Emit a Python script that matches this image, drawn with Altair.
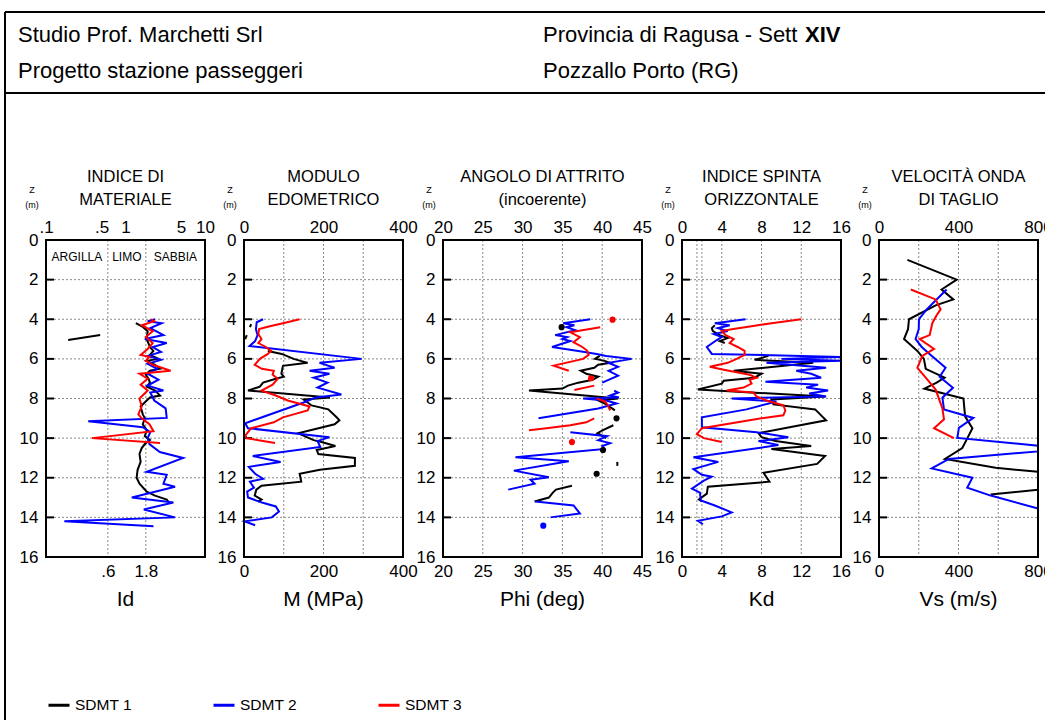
import altair as alt
import pandas as pd

FONT = "Liberation Sans"
SERIES = ["SDMT 1", "SDMT 2", "SDMT 3"]
COLORS = ["#000000", "#0000ff", "#ff0000"]

# Profiles as (depth [m], value) pairs; None marks a break in the trace.
ID_SDMT1 = [(4.8, 0.48), (5.05, 0.19), None,
            (4.2, 1.35), (4.4, 1.67), (4.6, 1.9), (5.0, 1.85), (5.4, 2.03), (5.6, 2.24), (5.8, 2.03),
            (6.0, 2.6), (6.1, 1.85), (6.3, 2.35), (6.5, 2.72), (6.6, 2.03), (6.8, 1.8), (7.0, 1.95),
            (7.2, 2.03), (7.4, 1.85), (7.6, 2.35), (7.85, 2.72), (7.95, 2.03), (8.1, 1.85), (8.4, 1.55),
            (8.8, 1.65), (9.0, 1.75), (9.3, 1.65), (9.6, 1.85), (9.9, 1.75), (10.1, 2.03), (10.3, 1.75),
            (10.5, 1.6), (10.8, 1.5), (11.2, 1.55), (11.6, 1.42), (12.0, 1.38), (12.3, 1.5), (12.7, 1.85),
            (12.9, 2.35), (13.1, 3.3), (13.3, 3.6)]
ID_SDMT2 = [(4.0, 2.35), (4.1, 1.9), (4.2, 2.85), (4.45, 2.05), (4.8, 3.0), (5.0, 1.75), (5.2, 3.3),
            (5.4, 2.2), (5.65, 2.8), (5.85, 1.9), (6.05, 2.8), (6.25, 1.9), (6.5, 2.5), (6.75, 1.9),
            (7.05, 2.6), (7.35, 1.9), (7.6, 3.0), (7.7, 2.05), (8.1, 2.3), (8.5, 3.2), (8.98, 3.3),
            (9.15, 0.34), (9.45, 1.65), (9.7, 2.05), (10.0, 1.9), (10.3, 2.0), (10.7, 2.7), (11.0, 5.3),
            (11.7, 1.85), (11.85, 3.3), (12.3, 3.0), (12.45, 4.2), (13.0, 1.2), (13.25, 4.0), (13.6, 1.7),
            (14.0, 4.2), (14.2, 0.17), (14.45, 2.25)]
ID_SDMT3 = [(4.0, 2.1), (4.1, 2.3), (4.3, 1.6), (4.6, 2.2), (4.9, 1.8), (5.2, 2.2), (5.5, 1.9),
            (5.8, 1.55), (5.9, 2.0), (6.1, 1.8), (6.3, 2.2), (6.6, 3.7), (6.75, 1.5), (7.0, 1.9),
            (7.3, 1.55), (7.6, 1.9), (8.0, 1.5), (8.4, 1.6), (8.8, 1.45), (9.0, 1.6), (9.3, 2.0),
            (9.65, 2.25), (10.0, 0.38), (10.25, 2.72)]

M_SDMT1 = [(4.25, 18), (4.4, 15), None, (4.8, 7), (5.0, 3), None,
           (5.6, 60), (5.75, 95), (6.0, 125), (6.2, 160), (6.35, 98), (6.75, 94), (6.9, 100), (7.0, 80),
           (7.2, 48), (7.4, 40), (7.6, 10), (7.95, 216), (8.05, 150), (8.35, 170), (8.55, 212),
           (8.95, 233), (9.1, 240), (9.3, 228), (9.75, 136), (10.1, 175), (10.2, 195), (10.4, 230),
           (10.6, 183), (10.8, 187), (11.0, 279), (11.4, 279), (11.6, 191), (11.8, 140), (12.2, 144),
           (12.4, 44), (12.6, 31), (12.9, 27), (13.1, 44), (13.2, 35)]
M_SDMT2 = [(4.0, 48), (4.15, 32), (4.5, 30), (4.8, 34), (5.1, 28), (5.35, 14), (6.0, 296), (6.2, 190),
           (6.45, 228), (6.6, 165), (6.75, 215), (6.95, 175), (7.2, 210), (7.45, 185), (7.8, 245),
           (7.95, 180), (8.2, 150), (9.25, 3), (9.5, 10), (9.95, 215), (10.15, 185), (10.45, 192),
           (10.9, 22), (11.2, 92), (11.45, 12), (11.8, 28), (12.05, 48), (12.2, 15), (12.5, 25),
           (12.7, 8), (13.0, 10), (13.25, 45), (13.45, 80), (13.7, 88), (14.0, 70), (14.2, 2), (14.4, 28)]
M_SDMT3 = [(4.0, 140), (4.2, 98), (4.35, 65), (4.5, 38), (4.75, 36), (5.0, 44), (5.2, 36), (5.4, 55),
           (5.6, 68), (5.75, 60), (6.0, 40), (6.3, 27), (6.5, 45), (6.6, 75), (6.8, 72), (7.0, 85),
           (7.3, 72), (7.6, 44), (7.85, 80), (8.1, 110), (8.4, 165), (8.6, 160), (8.95, 98), (9.2, 75),
           (9.5, 18), (9.85, 4), (10.0, 6), (10.25, 78)]

PHI_SDMT1 = [(5.85, 39.7), (6.0, 39.1), (6.1, 40.3), (6.2, 41.0), (6.3, 39.5), (6.45, 39.0), (6.6, 37.3),
             (6.75, 38.0), (6.9, 39.5), (7.05, 38.8), (7.2, 37.0), (7.35, 35.7), (7.5, 35.0), (7.6, 30.8),
             (8.0, 42.0), (8.1, 39.5), (8.3, 40.5), (8.6, 41.6), None,
             (9.35, 41.4), (9.6, 40.1), (9.75, 39.4), (10.0, 40.5), None,
             (11.2, 41.9), (11.4, 41.9), None,
             (12.4, 36.2), (12.6, 34.2), (12.75, 33.8), (13.0, 33.3), (13.2, 31.5)]
PHI_SDMT2 = [(4.0, 38.5), (4.2, 35.1), (4.3, 36.5), (4.4, 35.5), (4.55, 36.6), (4.8, 34.1), (4.9, 35.6),
             (5.0, 35.0), (5.1, 36.0), (5.4, 33.7), (5.6, 37.0), (5.75, 39.3), (5.85, 40.5), (6.0, 43.7),
             (6.2, 40.8), (6.4, 42.0), (6.6, 40.8), (6.85, 42.0), (7.2, 40.0), None,
             (7.6, 41.5), (7.7, 42.0), (7.85, 41.0), (7.95, 42.1), (8.0, 37.6), (8.1, 40.5), (8.25, 41.8),
             (8.5, 39.5), (9.0, 32.0), None,
             (9.7, 36.0), (9.9, 40.6), (10.1, 39.5), (10.25, 41.0), (10.4, 40.0), (10.55, 40.3),
             (10.97, 29.1), (11.17, 35.8), (11.64, 28.9), (11.98, 33.3), (12.1, 31.0), (12.3, 31.5),
             (12.6, 28.2), None,
             (13.2, 31.6), (13.4, 36.4), (13.8, 37.2), (14.0, 33.5)]
PHI_SDMT3 = [(4.4, 39.75), (4.66, 36.0), (4.9, 37.2), (5.16, 36.4), (5.4, 37.5), (5.58, 38.1),
             (5.8, 38.3), (6.0, 37.6), (6.34, 33.9), (6.6, 35.8), None,
             (7.35, 39.0), (7.57, 36.5), None,
             (8.0, 39.3), (8.15, 40.4), (8.35, 40.7), (8.6, 41.0), None,
             (9.0, 39.0), (9.2, 38.0), (9.35, 36.0), (9.5, 33.0), (9.6, 30.8)]
PHI_SDMT1_PUNTI = [(4.4, 34.9), (9.0, 41.8), (10.6, 40.1), (11.8, 39.3)]
PHI_SDMT2_PUNTI = [(14.42, 32.6)]
PHI_SDMT3_PUNTI = [(4.02, 41.3), (6.98, 38.6), (10.2, 36.2)]

KD_SDMT1 = [(4.3, 3.3), (4.45, 3.0), (4.6, 3.1), (4.8, 3.8), (4.95, 4.6), (5.1, 3.8), (5.2, 4.3), None,
            (5.85, 8.7), (6.05, 7.3), (6.2, 13.2), (6.6, 5.2), (6.75, 8.0), (6.95, 7.3), (7.1, 4.2),
            (7.25, 4.0), (7.55, 1.6), (7.9, 14.4), (8.05, 9.0), (8.3, 9.2), (8.55, 13.4), (8.85, 14.0),
            (9.1, 14.5), (9.75, 7.7), (9.95, 8.0), (10.15, 9.4), (10.4, 13.0), (10.55, 9.0), (10.9, 14.4),
            (11.3, 13.6), (11.75, 8.2), (12.2, 8.8), (12.45, 2.6), (12.8, 2.5), (13.1, 1.7), (13.2, 2.0)]
KD_SDMT2 = [(4.0, 6.4), (4.2, 3.3), (4.3, 4.8), (4.45, 3.6), (4.6, 4.6), (4.75, 3.2), (4.9, 4.0),
            (5.05, 3.5), (5.4, 2.5), (5.75, 3.0), (5.9, 16.0), (6.0, 10.0), (6.1, 16.0), (6.2, 8.5),
            (6.45, 14.5), (6.6, 11.5), (6.75, 13.0), (6.95, 14.0), (7.15, 8.4), (7.3, 13.7), (7.45, 12.5),
            (7.6, 14.7), (7.75, 12.8), (7.9, 14.5), (8.0, 5.0), (8.15, 9.5), (8.55, 6.5), (8.95, 2.0),
            (9.45, 2.0), (9.7, 7.5), (9.96, 10.7), (10.15, 7.7), (10.35, 9.7), (10.97, 1.15), (11.2, 3.65),
            (11.56, 1.15), (11.85, 2.0), (11.95, 3.0), (12.15, 2.2), (12.55, 1.0), (12.75, 1.8),
            (13.15, 1.9), (13.4, 3.3), (13.75, 5.0), (13.95, 4.0), (14.17, 1.6), (14.35, 2.1)]
KD_SDMT3 = [(4.0, 12.0), (4.2, 9.0), (4.35, 7.0), (4.5, 5.0), (4.6, 4.0), (4.8, 4.4), (5.0, 5.2),
            (5.2, 4.8), (5.4, 5.6), (5.6, 6.3), (5.8, 6.3), (6.0, 5.5), (6.2, 4.6), (6.4, 2.8), (6.55, 4.2),
            (6.8, 6.8), (6.95, 7.5), (7.05, 6.8), (7.25, 7.0), (7.45, 6.2), (7.6, 4.5), (7.7, 7.2),
            (7.9, 7.5), (8.1, 8.5), (8.35, 10.2), (8.6, 10.4), (8.85, 10.2), (9.0, 8.0), (9.2, 5.6),
            (9.5, 2.0), (9.8, 1.5), (10.0, 2.2), (10.2, 4.0)]

VS_SDMT1 = [(1.0, 143), (2.0, 391), (2.5, 315), (3.0, 374), (3.3, 285), (4.0, 151), (4.5, 146),
            (5.0, 126), (5.6, 193), (6.0, 226), (6.5, 235), (6.95, 330), (7.2, 290), (7.5, 228),
            (8.0, 425), (8.9, 433), (9.5, 470), (9.9, 450), (10.5, 419), (11.05, 332), (11.5, 587),
            (11.7, 800), None, (12.6, 800), (12.85, 562)]
VS_SDMT2 = [(2.5, 340), (3.0, 290), (3.5, 240), (4.0, 201), (4.5, 200), (5.0, 184), (5.4, 215),
            (5.8, 260), (6.45, 335), (6.9, 305), (7.46, 372), (7.96, 319), (8.55, 327), (8.98, 475),
            (9.48, 402), (9.99, 394), (10.38, 800), (10.67, 800), (11.05, 352), (11.53, 265), (12.0, 470),
            (12.5, 444), (12.9, 562), (13.55, 800)]
VS_SDMT3 = [(2.5, 160), (3.0, 285), (3.5, 310), (3.8, 290), (4.2, 268), (4.8, 255), (5.0, 205),
            (5.5, 277), (5.85, 218), (6.45, 193), (6.95, 235), (7.55, 285), (8.5, 319), (9.05, 327),
            (9.5, 277), (10.0, 377)]

# Soil classes on the material index scale
ID_CLASSI = ["ARGILLA", "LIMO", "SABBIA"]
ID_LIMITI = [0.1, 0.6, 1.8, 10]

DEPTH_TICKS = list(range(0, 17, 2))
DEPTH_GRID = list(range(2, 15, 2))

PANELS = [
    dict(serie=[ID_SDMT1, ID_SDMT2, ID_SDMT3], punti=[[], [], []], tipo="log", dominio=(0.1, 10),
         pos=(46, 205), griglia=[0.6, 1.8], alto=[0.1, 0.5, 1, 5, 10], basso=[0.6, 1.8],
         titolo=("INDICE DI", "MATERIALE"), asse="Id"),
    dict(serie=[M_SDMT1, M_SDMT2, M_SDMT3], punti=[[], [], []], tipo="linear", dominio=(0, 400),
         pos=(244, 403), griglia=[100, 200, 300], alto=[0, 200, 400], basso=[0, 200, 400],
         titolo=("MODULO", "EDOMETRICO"), asse="M (MPa)"),
    dict(serie=[PHI_SDMT1, PHI_SDMT2, PHI_SDMT3], punti=[PHI_SDMT1_PUNTI, PHI_SDMT2_PUNTI, PHI_SDMT3_PUNTI],
         tipo="linear", dominio=(20, 45), pos=(443, 642), griglia=[25, 30, 35, 40],
         alto=[20, 25, 30, 35, 40, 45], basso=[20, 25, 30, 35, 40, 45],
         titolo=("ANGOLO DI ATTRITO", "(incoerente)"), asse="Phi (deg)"),
    dict(serie=[KD_SDMT1, KD_SDMT2, KD_SDMT3], punti=[[], [], []], tipo="linear", dominio=(0, 16),
         pos=(682, 841), griglia=[1.5, 2, 4, 8, 12], alto=[0, 4, 8, 12, 16], basso=[0, 4, 8, 12, 16],
         titolo=("INDICE SPINTA", "ORIZZONTALE"), asse="Kd"),
    dict(serie=[VS_SDMT1, VS_SDMT2, VS_SDMT3], punti=[[], [], []], tipo="linear", dominio=(0, 800),
         pos=(879, 1038), griglia=[200, 400, 600], alto=[0, 400, 800], basso=[0, 400, 800],
         titolo=("VELOCITÀ ONDA", "DI TAGLIO"), asse="Vs (m/s)"),
]

W, H = 1045, 720
Y_TOP, Y_BOT = 240, 557
GRID_STYLE = dict(stroke="#8a8a8a", strokeWidth=1, strokeDash=[2, 2])

LEGEND = alt.Legend(orient="none", legendX=47, legendY=693, direction="horizontal", title=None,
                    symbolType="stroke", symbolSize=441, symbolStrokeWidth=3, labelFont=FONT,
                    labelFontSize=15.5, labelColor="black", labelOffset=4, columnPadding=75, padding=0)
COLOR_SCALE = alt.Scale(domain=SERIES, range=COLORS)


def profile_rows(pairs, serie):
    rows, seg = [], 0
    for i, p in enumerate(pairs):
        if p is None:
            seg += 1
            continue
        rows.append({"z": p[0], "v": p[1], "serie": serie, "tratto": f"{serie}/{seg}", "ordine": i})
    return rows


AXIS_BASE = dict(grid=False, domain=False, ticks=False, tickSize=0, labelFont=FONT, labelFontSize=17,
                 labelColor="black", labelOverlap=False, labelFlush=False, title=None)


def make_panel(p):
    lo, hi = p["dominio"]
    left, right = p["pos"]
    xs = alt.Scale(type=p["tipo"], domain=[lo, hi], range=[left, right], nice=False, zero=False)
    ys = alt.Scale(domain=[0, 16], range=[Y_TOP, Y_BOT], nice=False, zero=False)
    extra = {}
    if p["tipo"] == "log":
        extra["labelExpr"] = "datum.value < 1 ? slice(toString(datum.value), 1) : toString(datum.value)"
    top_axis = alt.Axis(orient="top", offset=-Y_TOP, values=p["alto"], labelPadding=4, **extra, **AXIS_BASE)
    bot_axis = alt.Axis(orient="bottom", offset=Y_BOT - H, values=p["basso"], labelPadding=6, **extra,
                        **AXIS_BASE)
    left_axis = alt.Axis(orient="left", offset=-left, values=DEPTH_TICKS, labelPadding=8, **AXIS_BASE)

    hgrid = alt.Chart(pd.DataFrame({"x0": lo, "x1": hi, "z": DEPTH_GRID})).mark_rule(**GRID_STYLE).encode(
        x=alt.X("x0:Q", scale=xs, axis=None), x2="x1:Q", y=alt.Y("z:Q", scale=ys, axis=None))
    vgrid = alt.Chart(pd.DataFrame({"x": p["griglia"], "z0": 0, "z1": 16})).mark_rule(**GRID_STYLE).encode(
        x=alt.X("x:Q", scale=xs, axis=bot_axis), y=alt.Y("z0:Q", scale=ys, axis=None), y2="z1:Q")
    ticks = alt.Chart(pd.DataFrame({"x0": lo, "x1": lo, "z": DEPTH_GRID})).mark_rule(
        stroke="black", strokeWidth=2, x2Offset=8).encode(
        x=alt.X("x0:Q", scale=xs, axis=None), x2="x1:Q", y=alt.Y("z:Q", scale=ys, axis=None))

    rows, dots = [], []
    for serie, pairs, pts in zip(SERIES, p["serie"], p["punti"]):
        rows += profile_rows(pairs, serie)
        dots += [{"z": z, "v": v, "serie": serie} for z, v in pts]
    lines = alt.Chart(pd.DataFrame(rows)).mark_line(strokeWidth=2).encode(
        x=alt.X("v:Q", scale=xs, axis=None), y=alt.Y("z:Q", scale=ys, axis=None),
        color=alt.Color("serie:N", scale=COLOR_SCALE, legend=LEGEND),
        detail="tratto:N", order="ordine:Q")
    layers = [hgrid, vgrid, ticks, lines]
    if dots:
        layers.append(alt.Chart(pd.DataFrame(dots)).mark_circle(size=38, opacity=1).encode(
            x=alt.X("v:Q", scale=xs, axis=None), y=alt.Y("z:Q", scale=ys, axis=None),
            color=alt.Color("serie:N", scale=COLOR_SCALE, legend=None)))
    if p["tipo"] == "log":
        centri = [(ID_LIMITI[i] * ID_LIMITI[i + 1]) ** 0.5 for i in range(len(ID_CLASSI))]
        layers.append(alt.Chart(pd.DataFrame({"t": ID_CLASSI, "x": centri, "z": 0.85})).mark_text(
            font=FONT, fontSize=12, color="black", baseline="middle").encode(
            x=alt.X("x:Q", scale=xs, axis=None), y=alt.Y("z:Q", scale=ys, axis=None), text="t:N"))
    frame = alt.Chart(pd.DataFrame({"x0": [lo], "x1": [hi], "z0": [0], "z1": [16]})).mark_rect(
        fillOpacity=0, stroke="black", strokeWidth=2).encode(
        x=alt.X("x0:Q", scale=xs, axis=top_axis), x2="x1:Q",
        y=alt.Y("z0:Q", scale=ys, axis=left_axis), y2="z1:Q")
    layers.append(frame)
    return alt.layer(*layers).resolve_axis(x="independent", y="independent")


ONE = pd.DataFrame({"k": [0]})


def label(txt, x, y, size, align="left", weight="normal"):
    return alt.Chart(pd.DataFrame({"t": [txt]})).mark_text(
        align=align, baseline="middle", font=FONT, fontSize=size, fontWeight=weight, color="black").encode(
        x=alt.value(x), y=alt.value(y), text="t:N")


def hline(y, x0=5, x1=W):
    return alt.Chart(ONE).mark_rule(stroke="black", strokeWidth=2).encode(
        x=alt.value(x0), x2=alt.value(x1), y=alt.value(y))


deco = [
    hline(12), hline(93),
    alt.Chart(ONE).mark_rule(stroke="black", strokeWidth=2).encode(
        x=alt.value(5), y=alt.value(12), y2=alt.value(H)),
    label("Studio Prof. Marchetti Srl", 18, 35, 22),
    label("Progetto stazione passeggeri", 18, 71, 22),
    label("Provincia di Ragusa - Sett ", 543, 35, 22),
    label("XIV", 805, 35, 22, weight="bold"),
    label("Pozzallo Porto (RG)", 543, 71, 22),
]
for p in PANELS:
    left, right = p["pos"]
    mid = (left + right) / 2
    deco += [
        label(p["titolo"][0], mid, 177, 16.5, align="center"),
        label(p["titolo"][1], mid, 200, 16.5, align="center"),
        label("Z", left - 14, 190, 9, align="center"),
        label("(m)", left - 14, 205, 9, align="center"),
        label(p["asse"], mid, 600, 21, align="center"),
    ]

chart = alt.layer(*[make_panel(p) for p in PANELS], *deco).resolve_scale(
    x="independent", y="independent", color="shared").resolve_axis(
    x="independent", y="independent").properties(
    width=W, height=H, padding=0, background="white",
    autosize=alt.AutoSizeParams(type="none")).configure_view(stroke=None)

chart.save("out.html", embed_options={"renderer": "svg", "actions": False})
